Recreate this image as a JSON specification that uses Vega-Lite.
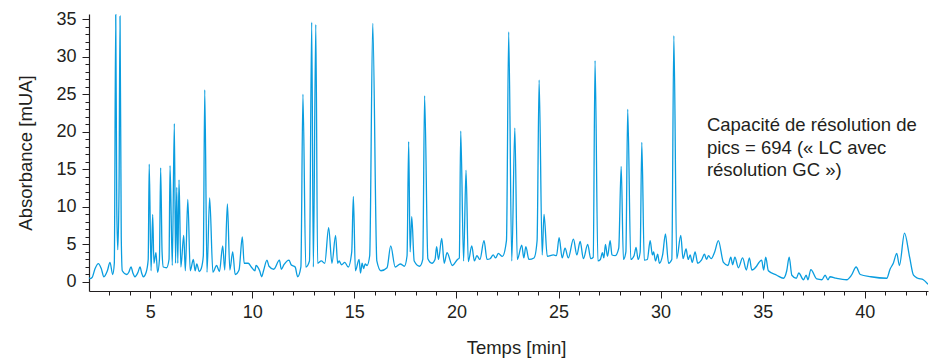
{
  "$schema": "https://vega.github.io/schema/vega-lite/v6.json",
  "autosize": "none",
  "width": 839,
  "height": 277,
  "padding": {"left": 89, "top": 14, "right": 2, "bottom": 67},
  "config": {
    "view": {"stroke": null},
    "axis": {
      "labelFont": "Liberation Sans",
      "titleFont": "Liberation Sans",
      "labelFontSize": 18,
      "titleFontSize": 18.5,
      "titleFontWeight": "normal",
      "labelColor": "#231f20",
      "titleColor": "#231f20",
      "domainColor": "#231f20",
      "tickColor": "#231f20",
      "domainWidth": 1.2,
      "tickWidth": 1,
      "grid": false,
      "labelOverlap": false,
      "labelBound": false,
      "tickCount": 200,
      "format": "d"
    }
  },
  "datasets": {
    "chrom": [
      {"t": 2.0, "a": 0.6}, {"t": 2.05, "a": 0.45}, {"t": 2.15, "a": 0.6}, {"t": 2.3, "a": 1.8}, {"t": 2.46, "a": 2.45}, {"t": 2.6, "a": 1.8}, {"t": 2.73, "a": 0.7}, {"t": 2.9, "a": 1.5}, {"t": 3.03, "a": 2.6}, {"t": 3.16, "a": 1.0}, {"t": 3.24, "a": 2.5}, {"t": 3.31, "a": 35.6}, {"t": 3.36, "a": 10}, {"t": 3.41, "a": 4.3}, {"t": 3.47, "a": 12}, {"t": 3.52, "a": 35.4}, {"t": 3.58, "a": 6}, {"t": 3.63, "a": 1.5}, {"t": 3.85, "a": 1.0}, {"t": 3.95, "a": 1.3}, {"t": 4.06, "a": 2.0}, {"t": 4.15, "a": 1.2}, {"t": 4.25, "a": 0.7}, {"t": 4.4, "a": 1.3}, {"t": 4.5, "a": 2.0}, {"t": 4.58, "a": 1.2}, {"t": 4.66, "a": 0.7}, {"t": 4.8, "a": 1.3}, {"t": 4.9, "a": 3.0}, {"t": 4.95, "a": 15.7}, {"t": 5.04, "a": 1.5}, {"t": 5.12, "a": 9.0}, {"t": 5.18, "a": 2.5}, {"t": 5.28, "a": 3.9}, {"t": 5.36, "a": 1.3}, {"t": 5.45, "a": 3.0}, {"t": 5.51, "a": 15.2}, {"t": 5.58, "a": 4}, {"t": 5.64, "a": 2.0}, {"t": 5.8, "a": 1.9}, {"t": 5.92, "a": 3}, {"t": 5.97, "a": 15.5}, {"t": 6.08, "a": 2.2}, {"t": 6.18, "a": 21.1}, {"t": 6.24, "a": 2.5}, {"t": 6.3, "a": 12.6}, {"t": 6.35, "a": 2.5}, {"t": 6.41, "a": 13.6}, {"t": 6.5, "a": 2.0}, {"t": 6.64, "a": 6.2}, {"t": 6.72, "a": 1.5}, {"t": 6.84, "a": 11.0}, {"t": 6.96, "a": 1.5}, {"t": 7.11, "a": 3.0}, {"t": 7.2, "a": 1.5}, {"t": 7.28, "a": 2.4}, {"t": 7.4, "a": 1.4}, {"t": 7.5, "a": 1.8}, {"t": 7.6, "a": 3.5}, {"t": 7.67, "a": 25.6}, {"t": 7.78, "a": 1.3}, {"t": 7.91, "a": 11.2}, {"t": 8.07, "a": 1.3}, {"t": 8.25, "a": 2.2}, {"t": 8.39, "a": 1.4}, {"t": 8.55, "a": 4.8}, {"t": 8.65, "a": 1.6}, {"t": 8.78, "a": 10.4}, {"t": 8.9, "a": 1.6}, {"t": 9.04, "a": 4.0}, {"t": 9.16, "a": 1.0}, {"t": 9.35, "a": 1.6}, {"t": 9.51, "a": 6.0}, {"t": 9.6, "a": 2.5}, {"t": 9.8, "a": 2.5}, {"t": 9.95, "a": 2.0}, {"t": 10.13, "a": 1.5}, {"t": 10.18, "a": 2.2}, {"t": 10.36, "a": 1.5}, {"t": 10.46, "a": 0.7}, {"t": 10.55, "a": 1.5}, {"t": 10.72, "a": 2.9}, {"t": 10.82, "a": 2.1}, {"t": 11.05, "a": 1.7}, {"t": 11.33, "a": 2.9}, {"t": 11.42, "a": 1.7}, {"t": 11.55, "a": 2.3}, {"t": 11.8, "a": 2.9}, {"t": 11.9, "a": 2.3}, {"t": 12.1, "a": 2.0}, {"t": 12.22, "a": 0.7}, {"t": 12.38, "a": 2.0}, {"t": 12.48, "a": 25.0}, {"t": 12.62, "a": 2.0}, {"t": 12.8, "a": 2.8}, {"t": 12.91, "a": 34.6}, {"t": 12.99, "a": 2.0}, {"t": 13.11, "a": 34.3}, {"t": 13.2, "a": 2.5}, {"t": 13.38, "a": 2.8}, {"t": 13.55, "a": 2.5}, {"t": 13.74, "a": 7.25}, {"t": 13.9, "a": 2.5}, {"t": 14.08, "a": 6.2}, {"t": 14.18, "a": 2.5}, {"t": 14.25, "a": 2.8}, {"t": 14.37, "a": 2.3}, {"t": 14.53, "a": 2.6}, {"t": 14.7, "a": 2.0}, {"t": 14.87, "a": 4.0}, {"t": 14.95, "a": 11.4}, {"t": 15.05, "a": 1.5}, {"t": 15.23, "a": 3.0}, {"t": 15.3, "a": 1.2}, {"t": 15.38, "a": 2.5}, {"t": 15.45, "a": 1.8}, {"t": 15.53, "a": 2.4}, {"t": 15.62, "a": 2.2}, {"t": 15.75, "a": 3.5}, {"t": 15.9, "a": 34.45}, {"t": 16.1, "a": 2.8}, {"t": 16.3, "a": 1.5}, {"t": 16.6, "a": 1.9}, {"t": 16.78, "a": 4.8}, {"t": 17.0, "a": 2.0}, {"t": 17.25, "a": 2.4}, {"t": 17.45, "a": 2.1}, {"t": 17.58, "a": 3.5}, {"t": 17.66, "a": 18.7}, {"t": 17.73, "a": 4.0}, {"t": 17.81, "a": 8.7}, {"t": 17.93, "a": 2.8}, {"t": 18.2, "a": 2.1}, {"t": 18.35, "a": 3.0}, {"t": 18.44, "a": 24.8}, {"t": 18.6, "a": 3.1}, {"t": 18.8, "a": 2.5}, {"t": 18.95, "a": 3.0}, {"t": 19.03, "a": 4.7}, {"t": 19.12, "a": 3.0}, {"t": 19.28, "a": 5.8}, {"t": 19.4, "a": 2.5}, {"t": 19.54, "a": 3.9}, {"t": 19.8, "a": 2.2}, {"t": 20.05, "a": 3.0}, {"t": 20.14, "a": 3.2}, {"t": 20.21, "a": 20.1}, {"t": 20.35, "a": 2.8}, {"t": 20.47, "a": 14.9}, {"t": 20.58, "a": 2.7}, {"t": 20.75, "a": 4.8}, {"t": 20.88, "a": 2.8}, {"t": 21.0, "a": 3.5}, {"t": 21.15, "a": 3.0}, {"t": 21.35, "a": 5.5}, {"t": 21.5, "a": 3.0}, {"t": 21.65, "a": 3.1}, {"t": 21.8, "a": 3.6}, {"t": 21.92, "a": 3.2}, {"t": 22.05, "a": 3.8}, {"t": 22.25, "a": 3.4}, {"t": 22.45, "a": 5.5}, {"t": 22.56, "a": 33.3}, {"t": 22.71, "a": 2.8}, {"t": 22.86, "a": 20.5}, {"t": 22.98, "a": 3.0}, {"t": 23.2, "a": 4.9}, {"t": 23.3, "a": 3.2}, {"t": 23.4, "a": 4.7}, {"t": 23.55, "a": 3.0}, {"t": 23.8, "a": 3.2}, {"t": 23.95, "a": 5.5}, {"t": 24.05, "a": 26.9}, {"t": 24.2, "a": 3.6}, {"t": 24.29, "a": 9.0}, {"t": 24.45, "a": 3.4}, {"t": 24.75, "a": 3.6}, {"t": 24.9, "a": 3.5}, {"t": 25.03, "a": 5.9}, {"t": 25.18, "a": 3.2}, {"t": 25.32, "a": 4.5}, {"t": 25.48, "a": 3.2}, {"t": 25.73, "a": 5.7}, {"t": 25.9, "a": 3.6}, {"t": 26.06, "a": 5.4}, {"t": 26.22, "a": 3.1}, {"t": 26.43, "a": 5.0}, {"t": 26.58, "a": 3.1}, {"t": 26.7, "a": 3.3}, {"t": 26.79, "a": 29.5}, {"t": 26.93, "a": 2.8}, {"t": 27.05, "a": 3.0}, {"t": 27.15, "a": 3.9}, {"t": 27.22, "a": 3.2}, {"t": 27.3, "a": 5.0}, {"t": 27.4, "a": 3.4}, {"t": 27.53, "a": 5.5}, {"t": 27.62, "a": 3.6}, {"t": 27.78, "a": 3.5}, {"t": 27.95, "a": 4.5}, {"t": 28.07, "a": 15.4}, {"t": 28.18, "a": 3.0}, {"t": 28.3, "a": 4.0}, {"t": 28.39, "a": 23.0}, {"t": 28.54, "a": 3.0}, {"t": 28.7, "a": 3.5}, {"t": 28.8, "a": 4.6}, {"t": 28.9, "a": 3.0}, {"t": 29.0, "a": 4.0}, {"t": 29.08, "a": 18.6}, {"t": 29.2, "a": 2.9}, {"t": 29.35, "a": 3.0}, {"t": 29.49, "a": 5.5}, {"t": 29.6, "a": 3.6}, {"t": 29.66, "a": 4.0}, {"t": 29.75, "a": 2.8}, {"t": 29.86, "a": 3.7}, {"t": 29.94, "a": 2.5}, {"t": 30.1, "a": 3.6}, {"t": 30.24, "a": 6.4}, {"t": 30.39, "a": 2.5}, {"t": 30.55, "a": 3.0}, {"t": 30.65, "a": 32.8}, {"t": 30.79, "a": 3.1}, {"t": 30.99, "a": 6.2}, {"t": 31.1, "a": 3.1}, {"t": 31.25, "a": 4.4}, {"t": 31.35, "a": 3.0}, {"t": 31.45, "a": 3.6}, {"t": 31.55, "a": 2.6}, {"t": 31.69, "a": 4.0}, {"t": 31.82, "a": 2.5}, {"t": 32.0, "a": 2.9}, {"t": 32.15, "a": 3.7}, {"t": 32.25, "a": 3.0}, {"t": 32.35, "a": 3.5}, {"t": 32.48, "a": 3.1}, {"t": 32.65, "a": 4.0}, {"t": 32.83, "a": 5.5}, {"t": 33.08, "a": 2.6}, {"t": 33.3, "a": 2.2}, {"t": 33.44, "a": 3.3}, {"t": 33.53, "a": 2.3}, {"t": 33.64, "a": 3.3}, {"t": 33.81, "a": 1.9}, {"t": 34.02, "a": 3.2}, {"t": 34.2, "a": 1.6}, {"t": 34.35, "a": 3.2}, {"t": 34.47, "a": 1.6}, {"t": 34.7, "a": 2.1}, {"t": 34.82, "a": 2.6}, {"t": 34.95, "a": 2.9}, {"t": 35.05, "a": 1.6}, {"t": 35.15, "a": 3.3}, {"t": 35.28, "a": 1.5}, {"t": 35.69, "a": 0.9}, {"t": 36.02, "a": 0.5}, {"t": 36.18, "a": 1.5}, {"t": 36.3, "a": 3.3}, {"t": 36.43, "a": 0.9}, {"t": 36.65, "a": 0.5}, {"t": 36.77, "a": 1.2}, {"t": 37.0, "a": 0.3}, {"t": 37.13, "a": 0.9}, {"t": 37.22, "a": 0.3}, {"t": 37.36, "a": 1.65}, {"t": 37.65, "a": 0.4}, {"t": 37.9, "a": 0.3}, {"t": 38.06, "a": 0.9}, {"t": 38.2, "a": 0.3}, {"t": 38.3, "a": 0.7}, {"t": 38.6, "a": 0.5}, {"t": 39.12, "a": 0.3}, {"t": 39.35, "a": 0.9}, {"t": 39.58, "a": 2.0}, {"t": 39.78, "a": 1.0}, {"t": 40.3, "a": 0.7}, {"t": 41.08, "a": 0.5}, {"t": 41.24, "a": 1.7}, {"t": 41.4, "a": 2.5}, {"t": 41.57, "a": 3.8}, {"t": 41.7, "a": 2.2}, {"t": 41.95, "a": 6.5}, {"t": 42.2, "a": 3.3}, {"t": 42.39, "a": 0.9}, {"t": 42.6, "a": 0.5}, {"t": 42.87, "a": 0.3}, {"t": 43.1, "a": -0.3}
    ],
    "note": [
      {"t": 32.27, "a": 20.1, "label": "Capacité de résolution de\npics = 694 (« LC avec\nrésolution GC »)"}
    ]
  },
  "layer": [
    {
      "data": {"name": "chrom"},
      "mark": {"type": "line", "color": "#0a9ddf", "strokeWidth": 1.3, "interpolate": "monotone", "clip": true},
      "encoding": {
        "x": {
          "field": "t", "type": "quantitative",
          "scale": {"domain": [2, 43.1], "nice": false, "zero": false},
          "axis": {
            "title": "Temps [min]",
            "values": [3,4,5,6,7,8,9,10,11,12,13,14,15,16,17,18,19,20,21,22,23,24,25,26,27,28,29,30,31,32,33,34,35,36,37,38,39,40,41,42,43],
            "labelExpr": "datum.value % 5 === 0 ? datum.label : ''",
            "tickSize": {"condition": {"test": "datum.value % 5 === 0", "value": 7}, "value": 4},
            "labelPadding": 5,
            "titlePadding": 17,
            "titleX": 427,
            "labelFlush": false
          }
        },
        "y": {
          "field": "a", "type": "quantitative",
          "scale": {"domain": [-1.2, 35.7], "nice": false, "zero": false},
          "axis": {
            "title": "Absorbance [mUA]",
            "values": [0,1,2,3,4,5,6,7,8,9,10,11,12,13,14,15,16,17,18,19,20,21,22,23,24,25,26,27,28,29,30,31,32,33,34,35],
            "labelExpr": "datum.value % 5 === 0 ? datum.label : ''",
            "tickSize": {"condition": {"test": "datum.value % 5 === 0", "value": 7}, "value": 4},
            "labelPadding": 6,
            "titlePadding": 20,
            "labelFlush": false
          }
        }
      }
    },
    {
      "data": {"name": "note"},
      "mark": {"type": "text", "align": "left", "baseline": "alphabetic", "font": "Liberation Sans", "fontSize": 18.5, "lineHeight": 22.5, "color": "#231f20", "lineBreak": "\n"},
      "encoding": {
        "x": {"field": "t", "type": "quantitative"},
        "y": {"field": "a", "type": "quantitative"},
        "text": {"field": "label"}
      }
    }
  ]
}
